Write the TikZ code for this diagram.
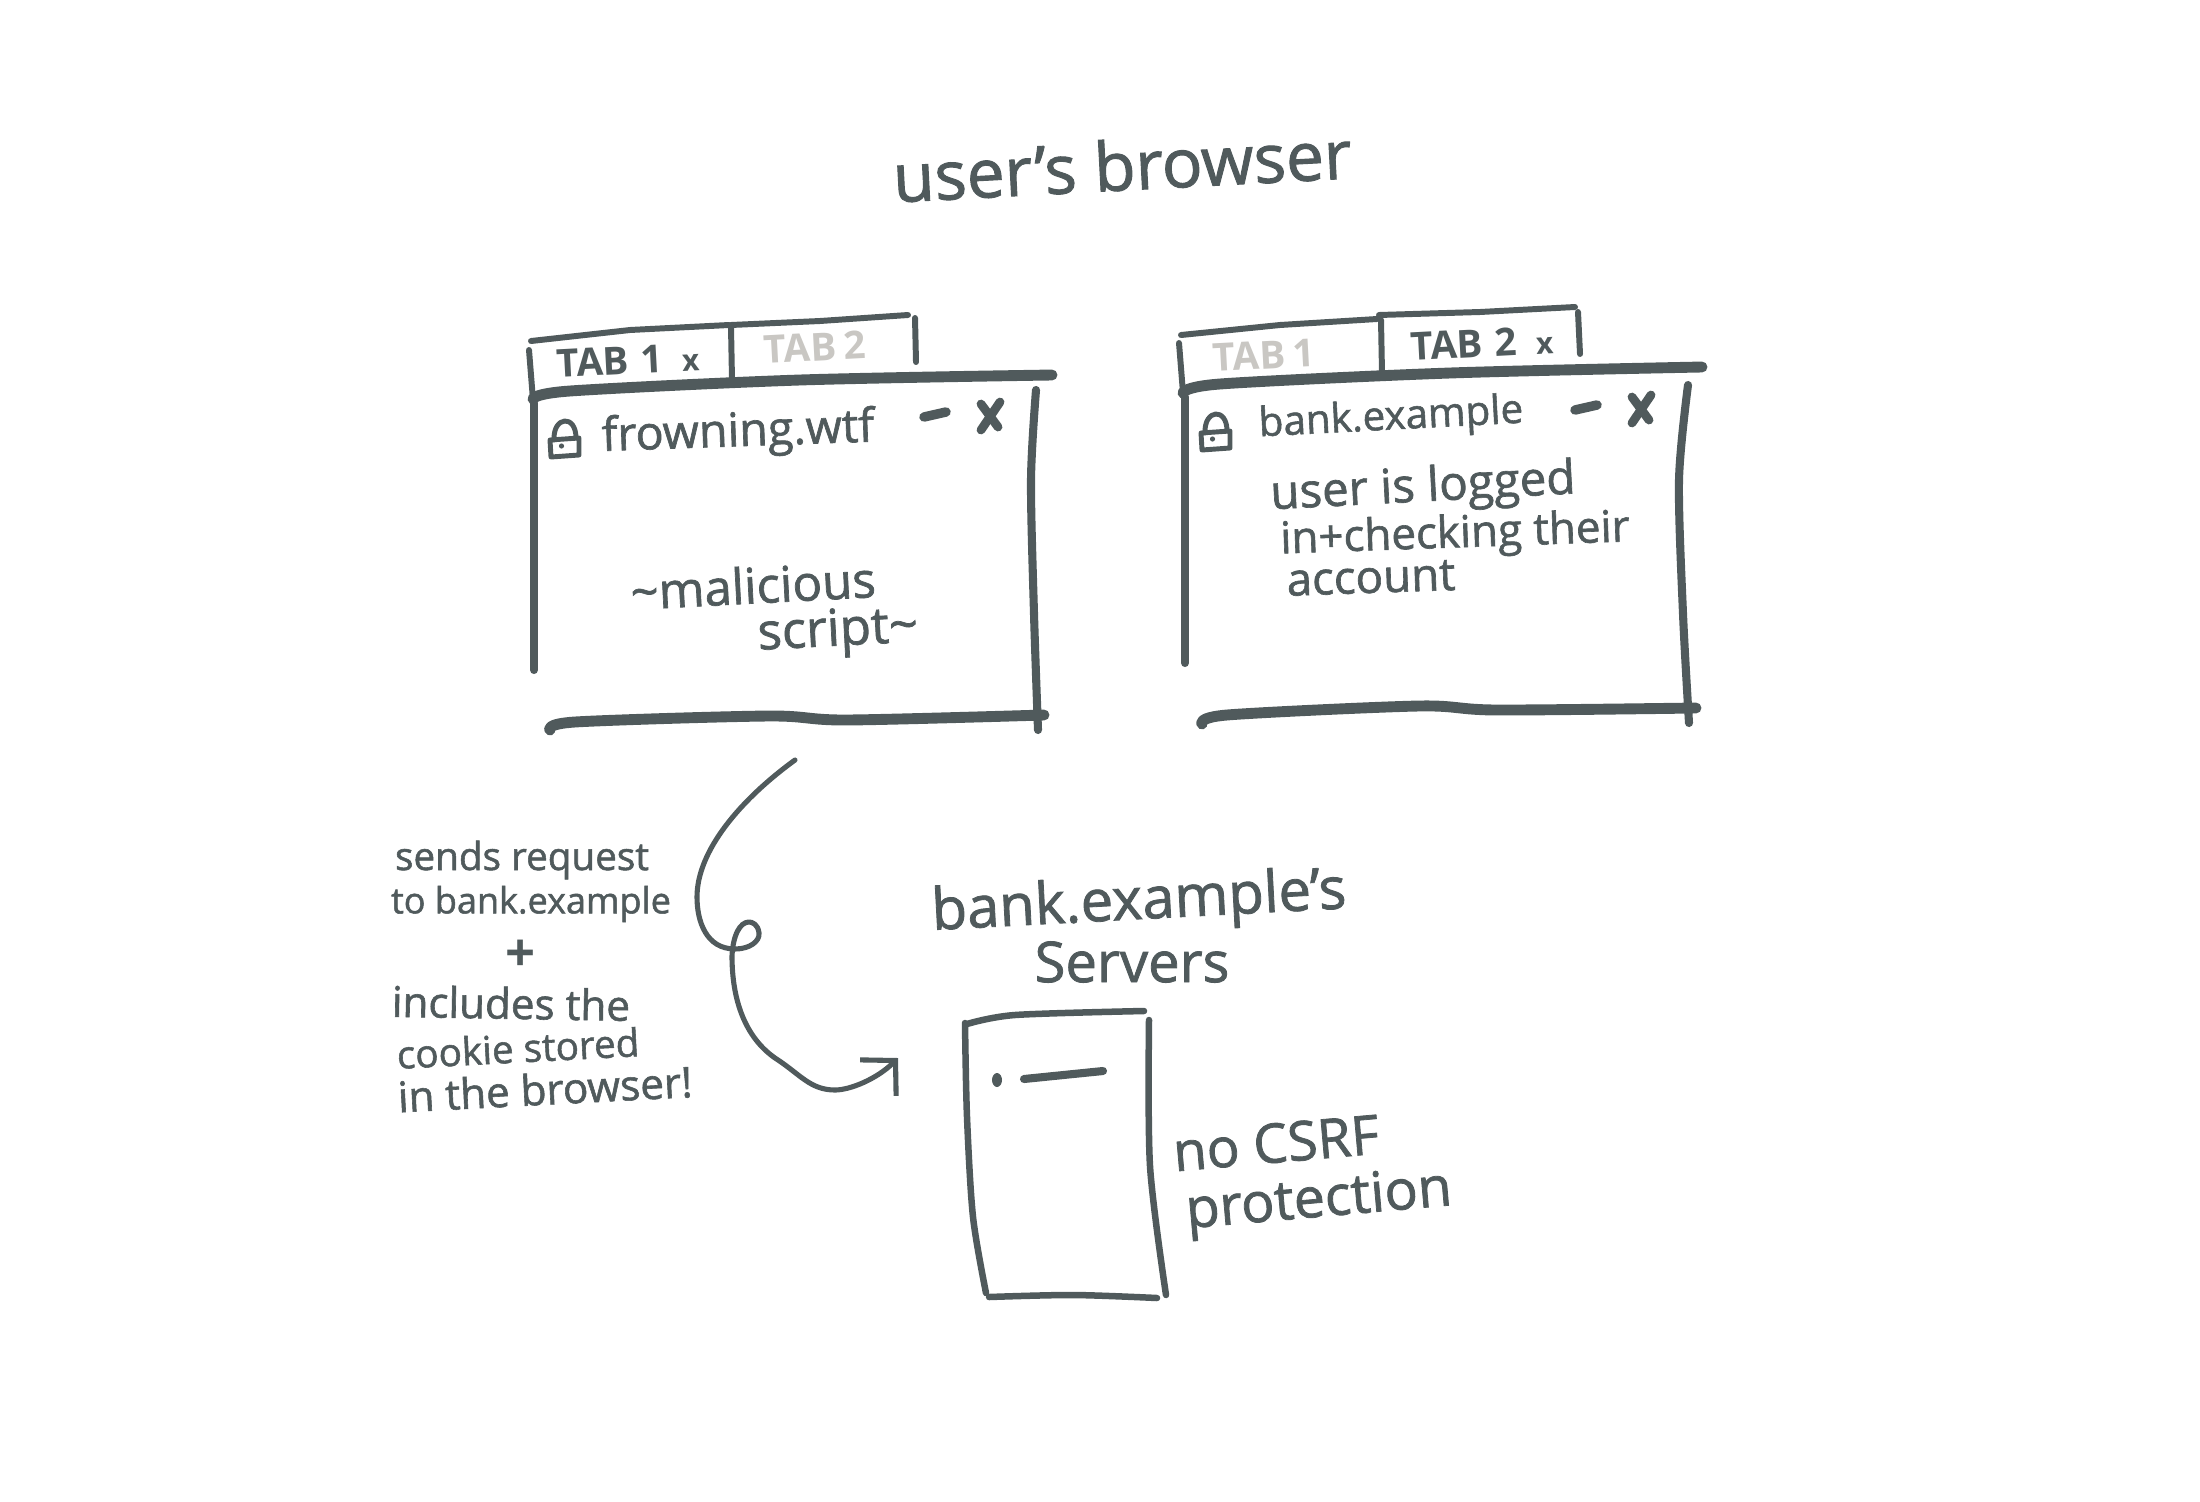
\documentclass[tikz,border=0pt]{standalone}
\usepackage{fontspec}
\setmainfont{Open Sans}
\newfontfamily\plainhand{Open Sans}[FakeBold=1.4]
\usetikzlibrary{arrows.meta}
\definecolor{inkgrey}{HTML}{505A5C}
\definecolor{fadedgrey}{HTML}{C9C7C3}
\newcommand{\handsize}[1]{\plainhand\fontsize{#1}{#1}\selectfont}
\newcommand{\boldsize}[1]{\normalfont\bfseries\fontsize{#1}{#1}\selectfont}
\begin{document}
\begin{tikzpicture}[
    x = 0.02cm,
    y = -0.02cm,
    ink/.style = {draw = inkgrey, line cap = round, line join = round},
    barline/.style = {ink, line width = 6.2pt},
    sideline/.style = {ink, line width = 4.6pt},
    tabline/.style = {ink, line width = 3.4pt},
    serverline/.style = {ink, line width = 3.7pt},
    reqline/.style = {ink, line width = 2.9pt},
    hand/.style = {text = inkgrey, inner sep = 0pt},
    tablabel/.style = {hand, font = \boldsize{22}, rotate = 3},
    fadedlabel/.style = {tablabel, text = fadedgrey},
    lockicon/.pic = {
      \draw [ink, line width = 2.8pt] (0,21) -- (29,19) -- (29,36) -- (1,38) -- cycle;
      \draw [ink, line width = 2.8pt] (4,21) .. controls (3,-3) and (26,-5) .. (26,19);
      \fill [inkgrey] (11.5,27) circle (2.6);
    },
    closeicons/.pic = {
      \draw [ink, line width = 5.4pt] (0,5) -- (22,0);
      \draw [ink, line width = 5pt] (57,-8) -- (74,15);
      \draw [ink, line width = 5pt] (76,-10) -- (57,18);
    }
  ]
  \useasboundingbox (0,0) rectangle (2200,1501);

  \node [hand, font = \handsize{38.5}, rotate = 3] (title) at (1122,165) {user’s browser};

  % Tab 1 window
  \draw [tabline] (531,341) -- (630,330) -- (729,325);
  \draw [tabline] (731,325) -- (820,321) -- (908,315);
  \draw [tabline] (529,350) -- (533,400);
  \draw [tabline] (731,327) -- (732,380);
  \draw [tabline] (915,318) -- (916,362);
  \draw [barline] plot [smooth] coordinates {(533,399) (570,391) (800,380) (1052,375)};
  \draw [sideline] (534,403) -- (534,670);
  \draw [sideline] plot [smooth] coordinates {(1036,390) (1031,480) (1034,614) (1038,730)};
  \draw [barline] plot [smooth] coordinates {(550,730) (575,722) (769,716) (846,720) (1044,715)};
  \node [tablabel] (tabone) at (628,360) {TAB\hspace{0.3em}1\hspace{0.5em}\boldsize{17}x};
  \node [fadedlabel] (tabtwo) at (815,347) {TAB\hspace{0.2em}2};
  \pic at (550,419) {lockicon};
  \pic at (924,412) {closeicons};
  \node [hand, font = \handsize{26.5}, rotate = 2] (frowning) at (738,434) {frowning.wtf};
  \node [hand, font = \handsize{28}, rotate = 3] (malicious) at (753,585) {\textasciitilde malicious};
  \node [hand, font = \handsize{29}, rotate = 3] (script) at (838,633) {script\textasciitilde};

  % Tab 2 window
  \draw [tabline] (1181,335) -- (1280,325) -- (1377,319);
  \draw [tabline] (1379,315) -- (1480,312) -- (1575,307);
  \draw [tabline] (1179,343) -- (1183,393);
  \draw [tabline] (1381,320) -- (1382,373);
  \draw [tabline] (1578,312) -- (1580,354);
  \draw [barline] plot [smooth] coordinates {(1183,393) (1220,384) (1450,373) (1702,367)};
  \draw [sideline] (1185,397) -- (1185,663);
  \draw [sideline] plot [smooth] coordinates {(1688,385) (1679,480) (1683,614) (1689,723)};
  \draw [barline] plot [smooth] coordinates {(1202,724) (1227,715) (1419,706) (1496,710) (1696,708)};
  \node [fadedlabel] (taboneoff) at (1264,355) {TAB\hspace{0.2em}1};
  \node [tablabel] (tabtwoon) at (1482,343) {TAB\hspace{0.3em}2\hspace{0.5em}\boldsize{17}x};
  \pic at (1201,412) {lockicon};
  \pic at (1575,405) {closeicons};
  \node [hand, font = \handsize{23}, rotate = 3] (bankurl) at (1391,419) {bank.example};
  \node [hand, font = \handsize{27}, rotate = 3] (userline) at (1423,489) {user is logged};
  \node [hand, font = \handsize{25}, rotate = 2] (checkline) at (1455,536) {in+checking their};
  \node [hand, font = \handsize{26}, rotate = 2] (accountline) at (1371,578) {account};

  % Request arrow
  \coordinate (reqstart) at (795,760);
  \coordinate (reqend) at (898,1058);
  \draw [reqline, -{Straight Barb[length = 14pt, width = 29pt]}] (reqstart)
    .. controls (740,800) and (697,851) .. (697,897)
    .. controls (697,921) and (706,949) .. (735,949)
    .. controls (750,949) and (760,941) .. (759,933)
    .. controls (758,924) and (752,922) .. (749,922)
    .. controls (740,922) and (733,935) .. (732,956)
    .. controls (732,1000) and (745,1037) .. (775,1058)
    .. controls (800,1074) and (810,1090) .. (835,1090)
    .. controls (850,1090) and (877,1079) .. (reqend);

  % Labels
  \begin{scope}[nodes = {hand, font = \handsize{24}}]
    \node [font = \handsize{22}] (sends) at (522,860) {sends request};
    \node [font = \handsize{20.5}] (tobank) at (531,904) {to bank.example};
    \node [font = \boldsize{30}] (plus) at (521,956) {+};
    \node [rotate = -1] (includes) at (511,1003) {includes the};
    \node [font = \handsize{22}, rotate = 3] (cookie) at (518,1048) {cookie stored};
    \node [rotate = 3] (inbrowser) at (545,1089) {in the browser!};
  \end{scope}

  % Server
  \node [hand, font = \handsize{33}, rotate = 3] (bankservers) at (1139,904) {bank.example’s};
  \node [hand, font = \handsize{32}] (servers) at (1132,962) {Servers};
  \draw [serverline] plot [smooth] coordinates {(967,1024) (1015,1015) (1144,1011)};
  \draw [serverline] plot [smooth] coordinates {(965,1023) (967,1117) (973,1217) (986,1293)};
  \draw [serverline] plot [smooth] coordinates {(1149,1020) (1150,1166) (1166,1295)};
  \draw [serverline] plot [smooth] coordinates {(989,1297) (1073,1295) (1157,1298)};
  \fill [inkgrey] (997,1080) ellipse (5 and 7);
  \draw [ink, line width = 4.6pt] (1024,1079) -- (1103,1071);
  \node [hand, font = \handsize{31}, rotate = 5] (nocsrf) at (1276,1143) {no CSRF};
  \node [hand, font = \handsize{31.5}, rotate = 5] (protection) at (1319,1203) {protection};
\end{tikzpicture}
\end{document}
